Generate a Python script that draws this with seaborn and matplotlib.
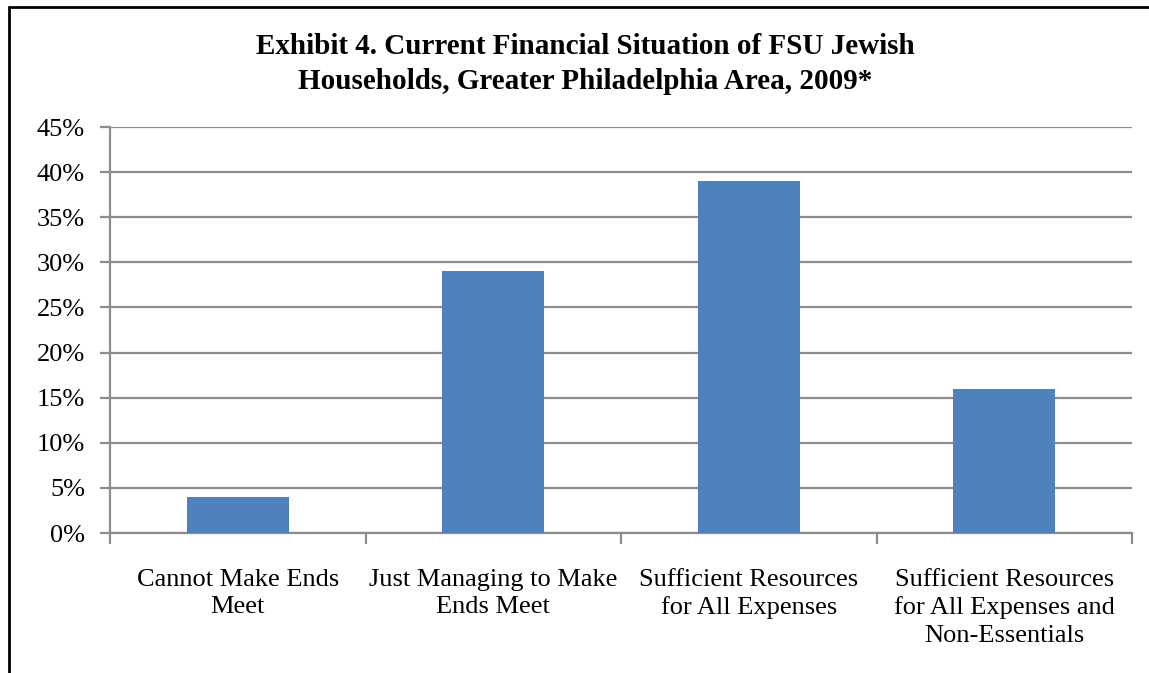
import matplotlib
matplotlib.use("Agg")
import matplotlib.pyplot as plt
import seaborn as sns
import pandas as pd
from matplotlib.lines import Line2D
from matplotlib.ticker import FuncFormatter, MultipleLocator, FixedLocator

categories = [
    "Cannot Make Ends\nMeet",
    "Just Managing to Make\nEnds Meet",
    "Sufficient Resources\nfor All Expenses",
    "Sufficient Resources\nfor All Expenses and\nNon-Essentials",
]
shares = [4, 29, 39, 16]

sns.set_theme(style="white")
plt.rcParams["font.family"] = ["Liberation Serif", "DejaVu Serif"]

df = pd.DataFrame({"category": categories, "share": shares})

fig = plt.figure(figsize=(11.49, 6.73), dpi=100)
ax = fig.add_axes([110 / 1149, 1 - 533 / 673, (1132 - 110) / 1149, (533 - 127) / 673])

sns.barplot(data=df, x="category", y="share", color="#4F81BD", saturation=1,
            width=0.4, linewidth=0, ax=ax, zorder=3)

ax.set_xlim(-0.5, 3.5)
ax.set_ylim(0, 45)
ax.yaxis.set_major_locator(MultipleLocator(5))
ax.yaxis.set_major_formatter(FuncFormatter(lambda v, p: f"{v:.0f}%"))
ax.grid(axis="y", color="#8c8c8c", linewidth=1.6, zorder=0)
ax.set_axisbelow(True)

for side in ("top", "right"):
    ax.spines[side].set_visible(False)
for side in ("left", "bottom"):
    ax.spines[side].set_color("#8c8c8c")
    ax.spines[side].set_linewidth(1.6)

ax.set_xlabel("")
ax.set_ylabel("")
ax.tick_params(axis="y", which="major", length=7, width=1.6, color="#8c8c8c",
               labelsize=19, pad=11, left=True)
ax.tick_params(axis="x", which="major", length=0, labelsize=19, pad=26)
ax.xaxis.set_minor_locator(FixedLocator([-0.5, 0.5, 1.5, 2.5, 3.5]))
ax.tick_params(axis="x", which="minor", length=8, width=1.6, color="#8c8c8c", bottom=True)
for lbl in ax.get_xticklabels():
    lbl.set_linespacing(1.3)
for lbl in ax.get_yticklabels() + ax.get_xticklabels():
    lbl.set_color("black")

fig.text(585 / 1149, 1 - 64 / 673,
         "Exhibit 4. Current Financial Situation of FSU Jewish\n"
         "Households, Greater Philadelphia Area, 2009*",
         ha="center", va="center", fontsize=21, fontweight="bold",
         linespacing=1.4, color="black")

# outer frame along the left and top edges
fig.add_artist(Line2D([9 / 1149, 9 / 1149], [0, 1 - 7 / 673], transform=fig.transFigure,
                      color="black", linewidth=2))
fig.add_artist(Line2D([9 / 1149, 1], [1 - 7 / 673, 1 - 7 / 673], transform=fig.transFigure,
                      color="black", linewidth=2))

fig.savefig("out.png", dpi=100)
